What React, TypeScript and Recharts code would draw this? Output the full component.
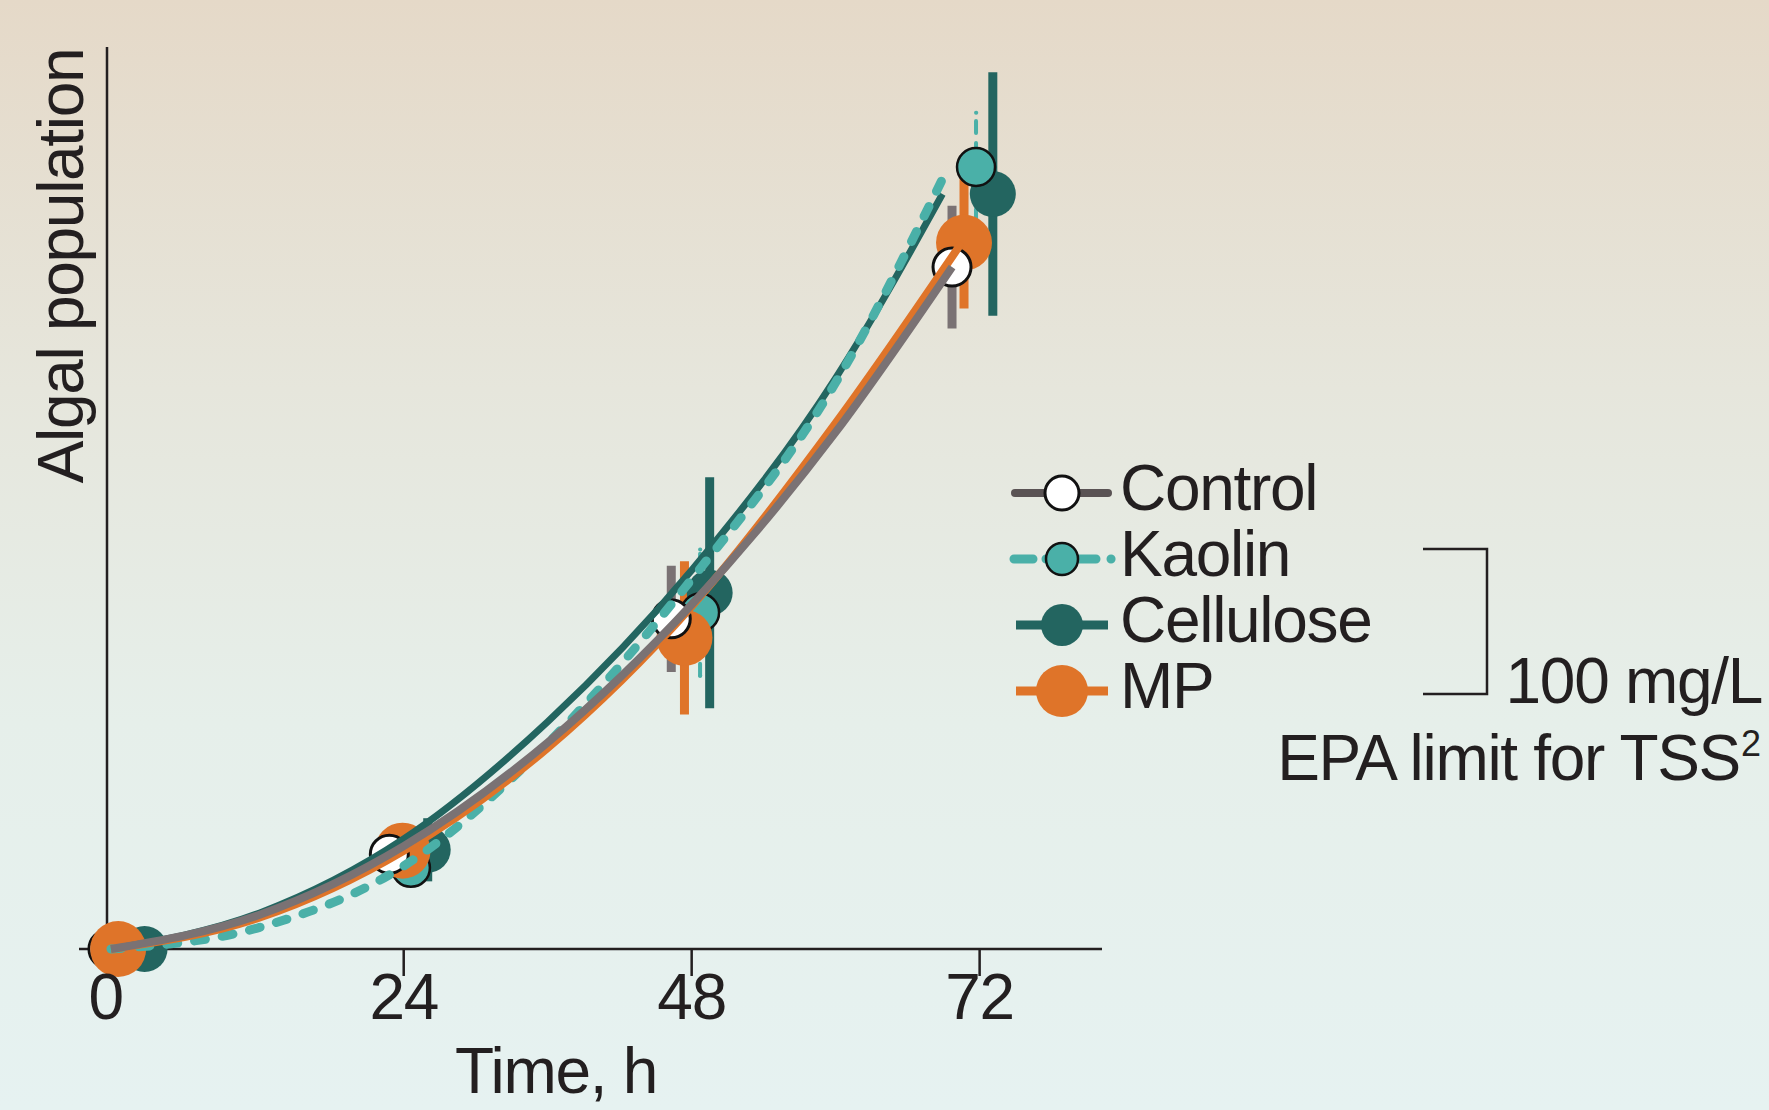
import React from 'react';
import { ComposedChart, Line, XAxis, YAxis, ErrorBar } from 'recharts';

// ---------- data ----------
const timeTicks = [0, 24, 48, 72];
const yTicks = [0];

// fitted growth curves (time h, algal population, arbitrary units)
const controlFitT = [-0.4, 12, 24, 36, 48, 60, 69.7];
const controlFitV = [0, 3.8, 11.4, 22.9, 38.2, 57.3, 75.6];
const kaolinFitT = [-0.4, 12, 24, 36, 48, 60, 69.4];
const kaolinFitV = [0, 2.4, 9.2, 22.8, 41.0, 62.8, 86.7];
const celluloseFitT = [-0.4, 12, 24, 36, 48, 60, 68.9];
const celluloseFitV = [0, 4.0, 12.2, 25.2, 42.0, 63.3, 83.7];
const mpFitT = [-0.4, 12, 24, 36, 48, 60, 70.5];
const mpFitV = [0, 3.5, 10.9, 22.3, 38.0, 58.3, 78.3];

// measured points (slightly dodged sampling times), means and error
const controlT = [-0.65, 22.8, 46.3, 69.7];
const controlV = [0, 10.5, 36.6, 75.6];
const controlErr = [0, 1.5, 5.9, 6.8];
const kaolinT = [1.2, 24.6, 48.7, 71.7];
const kaolinV = [0, 9.0, 37.3, 86.7];
const kaolinErr = [0, 1.5, 7.0, 6.0];
const celluloseT = [2.4, 26.0, 49.5, 73.1];
const celluloseV = [0, 11.0, 39.5, 83.7];
const celluloseErr = [0, 3.5, 12.8, 13.5];
const mpT = [0.2, 23.9, 47.4, 70.7];
const mpV = [0, 10.9, 34.5, 78.3];
const mpErr = [0, 1.5, 8.5, 7.3];

const seriesNames = ['Control', 'Kaolin', 'Cellulose', 'MP'];

// ---------- styles ----------
const FONT = '"Liberation Sans", Arial, Helvetica, sans-serif';
const INK = '#231f20';
const LS = -1.3;

type Style = {
  color: string;
  legendLine: string;
  width: number;
  dash?: string;
  r: number;
  legendR: number;
  fill: string;
  stroke?: string;
  sw?: number;
  barColor: string;
  barWidth: number;
  barDash?: string;
};

const styles: Record<string, Style> = {
  Control: { color: '#7a7274', legendLine: '#5a5354', width: 8, r: 19, legendR: 17, fill: '#ffffff', stroke: '#111', sw: 3, barColor: '#7a7274', barWidth: 9 },
  Kaolin: { color: '#4ab0a8', legendLine: '#4ab0a8', width: 9, dash: '11 17', r: 19, legendR: 16, fill: '#4ab0a8', stroke: '#111', sw: 2.5, barColor: '#4ab0a8', barWidth: 4, barDash: '12 10' },
  Cellulose: { color: '#236560', legendLine: '#236560', width: 7, r: 23, legendR: 21, fill: '#236560', barColor: '#236560', barWidth: 9 },
  MP: { color: '#df7429', legendLine: '#df7429', width: 8, r: 28, legendR: 26, fill: '#df7429', barColor: '#df7429', barWidth: 9 },
};

type Pt = { t: number; v: number; e: number };
const zip = (t: number[], v: number[], e?: number[]): Pt[] =>
  t.map((tt, i) => ({ t: tt, v: v[i], e: e ? e[i] : 0 }));

const fits: Record<string, Pt[]> = {
  Control: zip(controlFitT, controlFitV),
  Kaolin: zip(kaolinFitT, kaolinFitV),
  Cellulose: zip(celluloseFitT, celluloseFitV),
  MP: zip(mpFitT, mpFitV),
};
const points: Record<string, Pt[]> = {
  Control: zip(controlT, controlV, controlErr),
  Kaolin: zip(kaolinT, kaolinV, kaolinErr),
  Cellulose: zip(celluloseT, celluloseV, celluloseErr),
  MP: zip(mpT, mpV, mpErr),
};

// drawing order (bottom to top)
const startOrder = ['Control', 'Kaolin', 'Cellulose', 'MP']; // markers at time 0
const drawOrder = ['Cellulose', 'Kaolin', 'MP', 'Control'];

const W = 1769;
const H = 1110;

const XTick = (props: any) => {
  const { x, y, payload } = props;
  const shift = payload.value === 0 ? -10 : 0;
  return (
    <text x={x + shift} y={y} dy={43} textAnchor="middle" fontFamily={FONT} fontSize={64} letterSpacing={LS} fill={INK}>
      {payload.value}
    </text>
  );
};

const EmptyTick = () => <g />;

const makeDot = (name: string, tag: string) => (p: any) => {
  const s = styles[name];
  const key = `${name}-${tag}-${p.index}`;
  if (p.cx == null || p.cy == null) return <g key={key} />;
  return (
    <circle key={key} cx={p.cx} cy={p.cy} r={s.r} fill={s.fill} stroke={s.stroke || 'none'} strokeWidth={s.sw || 0} />
  );
};

const LegendOverlay = () => {
  const rowY = [493, 559, 625, 691];
  return (
    <svg width={W} height={H} style={{ position: 'absolute', left: 0, top: 0, pointerEvents: 'none' }}>
      {seriesNames.map((name, i) => {
        const s = styles[name];
        const cy = rowY[i];
        const cx = 1062;
        const dashed = !!s.dash;
        return (
          <g key={name}>
            <line
              x1={dashed ? 1014 : name === 'Control' ? 1015 : 1016}
              x2={dashed ? 1112 : 1108}
              y1={cy}
              y2={cy}
              stroke={s.legendLine}
              strokeWidth={name === 'Control' ? 8 : 9}
              strokeDasharray={dashed ? '19 13 50 15 0.1 100' : undefined}
              strokeLinecap={dashed || name === 'Control' ? 'round' : 'butt'}
            />
            <circle cx={cx} cy={cy} r={s.legendR} fill={s.fill} stroke={s.stroke || 'none'} strokeWidth={s.sw || 0} />
            <text x={1120} y={cy + 17} fontFamily={FONT} fontSize={64} letterSpacing={LS} fill={INK}>
              {name}
            </text>
          </g>
        );
      })}
      <polyline points="1423,549 1487,549 1487,694 1423,694" fill="none" stroke={INK} strokeWidth={2.5} />
      <text x={1762} y={703} textAnchor="end" fontFamily={FONT} fontSize={64} letterSpacing={LS} fill={INK}>
        100 mg/L
      </text>
      <text x={1740} y={780} textAnchor="end" fontFamily={FONT} fontSize={64} letterSpacing={LS} fill={INK}>
        EPA limit for TSS
      </text>
      <text x={1741} y={756} textAnchor="start" fontFamily={FONT} fontSize={36} fill={INK}>
        2
      </text>
    </svg>
  );
};

export default function App() {
  let z = 600;
  return (
    <div
      style={{
        position: 'absolute',
        left: 0,
        top: 0,
        width: W,
        height: H,
        overflow: 'hidden',
        background: 'linear-gradient(to bottom, #e5d9c8 0%, #e6e6dc 35%, #e6efea 65%, #e6f2f1 100%)',
        fontFamily: FONT,
      }}
    >
      <ComposedChart width={W} height={H} margin={{ top: 47, right: 667, bottom: 0, left: 0 }}>
        <XAxis
          type="number"
          dataKey="t"
          domain={[-0.73, 82.2]}
          ticks={timeTicks}
          height={161}
          tickSize={27}
          tickMargin={0}
          stroke={INK}
          strokeWidth={2.5}
          tickLine={{ stroke: INK, strokeWidth: 2.5 }}
          tick={<XTick />}
          label={{
            value: 'Time, h',
            content: () => (
              <text x={556} y={1093} textAnchor="middle" fontFamily={FONT} fontSize={64} letterSpacing={LS} fill={INK}>
                Time, h
              </text>
            ),
          }}
        />
        <YAxis
          type="number"
          dataKey="v"
          domain={[0, 100]}
          ticks={yTicks}
          width={107}
          tickSize={28}
          stroke={INK}
          strokeWidth={2.5}
          tickLine={{ stroke: INK, strokeWidth: 2.5 }}
          tick={<EmptyTick />}
          label={{
            value: 'Algal population',
            content: () => (
              <text transform="rotate(-90)" x={-266} y={83} textAnchor="middle" fontFamily={FONT} fontSize={64} letterSpacing={LS} fill={INK}>
                Algal population
              </text>
            ),
          }}
        />
        {startOrder.map((name) => (
          <Line
            key={`${name}-start`}
            data={points[name].slice(0, 1)}
            dataKey="v"
            name={`${name} 0 h`}
            type="linear"
            stroke="none"
            strokeWidth={0}
            dot={makeDot(name, 's')}
            activeDot={false}
            legendType="none"
            isAnimationActive={false}
            zIndex={z++}
          />
        ))}
        {drawOrder.flatMap((name) => {
          const s = styles[name];
          return [
            <Line
              key={`${name}-fit`}
              data={fits[name]}
              dataKey="v"
              name={`${name} fit`}
              type="monotone"
              stroke={s.color}
              strokeWidth={s.width}
              strokeDasharray={s.dash}
              strokeLinecap={s.dash ? 'round' : 'butt'}
              dot={false}
              activeDot={false}
              legendType="none"
              isAnimationActive={false}
              zIndex={z++}
            />,
            <Line
              key={`${name}-pts`}
              data={points[name].slice(1)}
              dataKey="v"
              name={name}
              type="linear"
              stroke="none"
              strokeWidth={0}
              dot={makeDot(name, 'p')}
              activeDot={false}
              isAnimationActive={false}
              zIndex={z++}
            >
              <ErrorBar
                dataKey="e"
                direction="y"
                width={0}
                stroke={s.barColor}
                strokeWidth={s.barWidth}
                strokeDasharray={s.barDash}
                strokeLinecap={s.barDash ? 'round' : 'butt'}
                isAnimationActive={false}
              />
            </Line>,
          ];
        })}
      </ComposedChart>
      <LegendOverlay />
    </div>
  );
}
